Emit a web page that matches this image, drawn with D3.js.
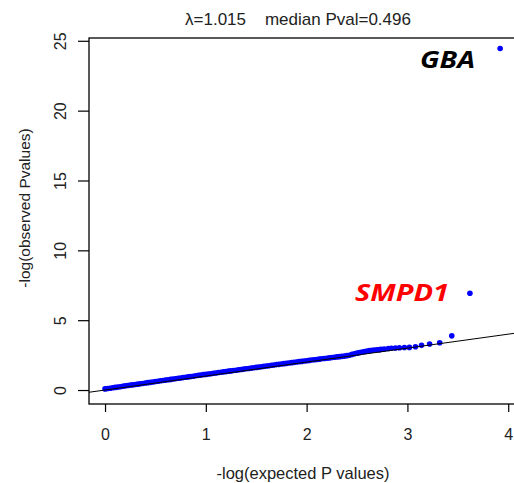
<!DOCTYPE html>
<html>
<head>
<meta charset="utf-8">
<script src="https://cdn.jsdelivr.net/npm/d3@7/dist/d3.min.js"></script>
<style>
  html, body { margin: 0; padding: 0; background: #fff; }
  svg { display: block; font-family: "Liberation Sans", Arial, sans-serif; }
</style>
</head>
<body>
<svg id="chart" width="514" height="483"></svg>
<script>
// ---- data ----
const expectedP = [
  0.000,0.025,0.050,0.075,0.100,0.125,0.150,0.175,0.200,0.225,0.250,0.275,
  0.300,0.325,0.350,0.375,0.400,0.425,0.450,0.475,0.500,0.525,0.550,0.575,
  0.600,0.625,0.650,0.675,0.700,0.725,0.750,0.775,0.800,0.825,0.850,0.875,
  0.900,0.925,0.950,0.975,1.000,1.025,1.050,1.075,1.100,1.125,1.150,1.175,
  1.200,1.225,1.250,1.275,1.300,1.325,1.350,1.375,1.400,1.425,1.450,1.475,
  1.500,1.525,1.550,1.575,1.600,1.625,1.650,1.675,1.700,1.725,1.750,1.775,
  1.800,1.825,1.850,1.875,1.900,1.925,1.950,1.975,2.000,2.025,2.050,2.075,
  2.100,2.125,2.150,2.175,2.200,2.225,2.250,2.275,2.300,2.325,2.350,2.375,
  2.400,2.425,2.450,2.475,2.500,2.525,2.550,2.575,2.600,2.625,2.650,2.675,
  2.700,2.725,
  2.74,2.77,2.81,2.84,2.88,2.92,2.97,3.02,3.08,3.14,3.22,3.32,3.44,3.62,3.92
];
const observedP = [
  0.08,0.11,0.13,0.16,0.19,0.21,0.24,0.27,0.30,0.32,0.35,0.37,
  0.40,0.42,0.45,0.47,0.50,0.53,0.55,0.58,0.61,0.63,0.66,0.68,
  0.71,0.74,0.76,0.79,0.81,0.84,0.86,0.89,0.92,0.94,0.97,0.99,
  1.02,1.05,1.07,1.10,1.12,1.15,1.17,1.20,1.22,1.25,1.27,1.30,
  1.32,1.35,1.37,1.40,1.42,1.45,1.47,1.50,1.52,1.54,1.57,1.59,
  1.62,1.64,1.67,1.69,1.72,1.74,1.77,1.79,1.82,1.84,1.86,1.89,
  1.91,1.94,1.96,1.98,2.01,2.03,2.05,2.08,2.10,2.12,2.15,2.17,
  2.19,2.21,2.24,2.26,2.28,2.30,2.33,2.35,2.37,2.39,2.41,2.43,
  2.46,2.49,2.55,2.60,2.64,2.68,2.72,2.76,2.79,2.82,2.85,2.87,
  2.88,2.89,
  2.92,2.94,2.97,2.99,3.01,3.03,3.04,3.05,3.10,3.20,3.30,3.38,3.88,6.93,24.45
];
const xTicks = [0, 1, 2, 3, 4];
const yTicks = [0, 5, 10, 15, 20, 25];
const titleText = "\u03bb=1.015    median Pval=0.496";
const xTitle = "-log(expected P values)";
const yTitle = "-log(observed Pvalues)";
const geneLabels = [
  { name: "GBA", x: 3.125, y: 23.05, color: "#000000", w: 55 },
  { name: "SMPD1", x: 2.48, y: 6.4, color: "#ff0000", w: 94 }
];

// ---- layout ----
(function () {
const svg = d3.select("#chart");
const pL = 89, pR = 518, pT = 38, pB = 404;
const x = d3.scaleLinear().domain([-0.159, 4.097]).range([pL, pR]);
const y = d3.scaleLinear().domain([-1.0, 25.2]).range([pB, pT]);

svg.append("rect").attr("width", 514).attr("height", 483).attr("fill", "#fff");

svg.append("defs").append("clipPath").attr("id", "plotclip")
  .append("rect").attr("x", pL).attr("y", pT)
  .attr("width", pR - pL).attr("height", pB - pT);

// points
const pts = expectedP.map((e, i) => ({ e, o: observedP[i] }));
svg.append("g").attr("clip-path", "url(#plotclip)")
  .selectAll("circle").data(pts).join("circle")
  .attr("cx", d => x(d.e)).attr("cy", d => y(d.o))
  .attr("r", 2.8).attr("fill", "#0000ff");

// reference line y = x
const xd = x.domain();
svg.append("line").attr("clip-path", "url(#plotclip)")
  .attr("x1", x(xd[0])).attr("y1", y(xd[0]))
  .attr("x2", x(xd[1])).attr("y2", y(xd[1]))
  .attr("stroke", "#000").attr("stroke-width", 1);

// box
svg.append("rect").attr("x", pL).attr("y", pT)
  .attr("width", pR - pL).attr("height", pB - pT)
  .attr("fill", "none").attr("stroke", "#000").attr("stroke-width", 1.3);

// x axis
const xAxis = d3.axisBottom(x).tickValues(xTicks).tickSize(8).tickPadding(16.5)
  .tickFormat(d3.format("d"));
const gx = svg.append("g").attr("transform", `translate(0,${pB})`).call(xAxis);
gx.select(".domain").remove();
gx.selectAll("line").attr("stroke", "#000").attr("stroke-width", 1.2);
gx.selectAll("text").attr("font-size", 16).attr("fill", "#222")
  .attr("font-family", "Liberation Sans, Arial, sans-serif");

// y axis
const yAxis = d3.axisLeft(y).tickValues(yTicks).tickSize(11).tickFormat(d3.format("d"));
const gy = svg.append("g").attr("transform", `translate(${pL},0)`).call(yAxis);
gy.select(".domain").remove();
gy.selectAll("line").attr("stroke", "#000").attr("stroke-width", 1.2);
gy.selectAll("text")
  .attr("font-size", 16).attr("fill", "#222")
  .attr("font-family", "Liberation Sans, Arial, sans-serif")
  .attr("x", null).attr("dy", null)
  .attr("text-anchor", "middle")
  .attr("transform", "translate(-23,0) rotate(-90)")
  .attr("y", 0);

// titles
svg.append("text").attr("x", 298).attr("y", 25).attr("text-anchor", "middle")
  .style("white-space", "pre")
  .attr("font-size", 17).attr("fill", "#222").text(titleText);
svg.append("text").attr("x", 303).attr("y", 479).attr("text-anchor", "middle")
  .attr("font-size", 16.5).attr("fill", "#222").text(xTitle);
svg.append("text").attr("transform", "translate(30,208) rotate(-90)")
  .attr("text-anchor", "middle").attr("font-size", 15.5).attr("fill", "#222").text(yTitle);

// gene labels
svg.selectAll("text.gene").data(geneLabels).join("text").attr("class", "gene")
  .attr("x", d => x(d.x)).attr("y", d => y(d.y))
  .attr("fill", d => d.color)
  .attr("font-family", "'Open Sans', 'Liberation Sans', sans-serif")
  .attr("font-weight", "bold").attr("font-style", "italic")
  .attr("font-size", 23)
  .attr("textLength", d => d.w).attr("lengthAdjust", "spacingAndGlyphs")
  .text(d => d.name);
})();
</script>
</body>
</html>
